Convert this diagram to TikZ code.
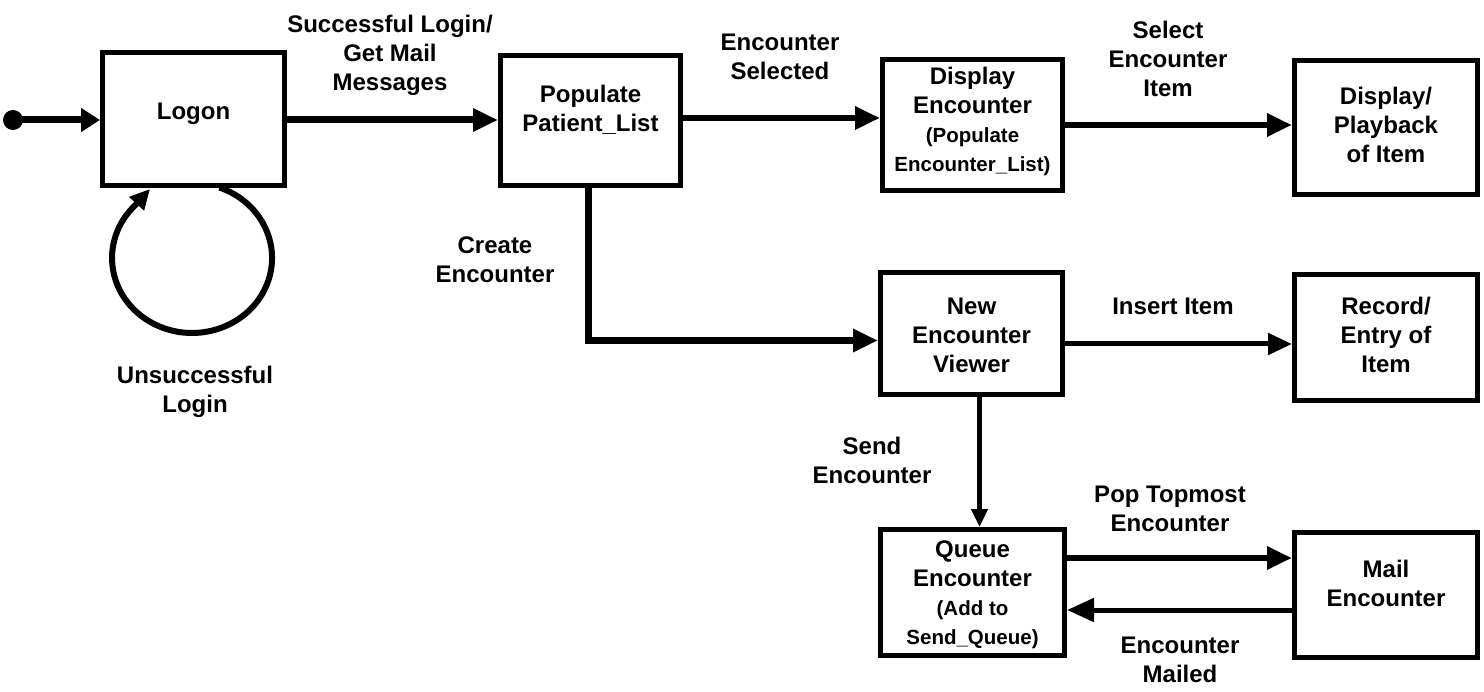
\documentclass[tikz,border=0pt]{standalone}
\usepackage{fontspec}
\setmainfont{Liberation Sans}
\usetikzlibrary{arrows.meta}
% centred multi-line text, optionally raised without changing its reported size
\newcommand\stack[2][0pt]{\raisebox{#1}[\height][\depth]{\begin{tabular}{@{}c@{}}#2\end{tabular}}}
\newcommand\minor{\fontsize{20.5}{29}\selectfont}

\begin{document}
\begin{tikzpicture}[x=1pt,y=-1pt,
  stage/.style={draw, line width=5pt, fill=white, inner sep=0pt,
    font=\bfseries\fontsize{24}{29}\selectfont},
  tag/.style={inner sep=0pt, font=\bfseries\fontsize{24}{29}\selectfont},
  flow/.style={line width=6.5pt, -{Triangle[length=25pt,width=22pt]}},
  thinflow/.style={line width=5pt, -{Triangle[length=24pt,width=21pt]}},
]
\fill[white] (0,0) rectangle (1484,692);
\useasboundingbox (0,0) rectangle (1484,692);

% states
\node[stage, minimum width=182pt, minimum height=133pt] (logon) at (193.5,119) {\stack[5pt]{Logon}};
\node[stage, minimum width=180pt, minimum height=130pt] (populate) at (590.5,120.5) {\stack[9pt]{Populate\\Patient\_List}};
\node[stage, minimum width=180pt, minimum height=131pt] (display) at (972.5,125) {\stack[3pt]{Display\\Encounter\\{\minor (Populate}\\{\minor Encounter\_List)}}};
\node[stage, minimum width=183pt, minimum height=134pt] (playback) at (1386,127.5) {\stack{Display/\\Playback\\of Item}};
\node[stage, minimum width=182pt, minimum height=122pt] (viewer) at (971.5,333.5) {\stack[-4pt]{New\\Encounter\\Viewer}};
\node[stage, minimum width=183pt, minimum height=126pt] (record) at (1386,337.5) {\stack{Record/\\Entry of\\Item}};
\node[stage, minimum width=184pt, minimum height=126pt] (queue) at (972.5,592.5) {\stack[-3pt]{Queue\\Encounter\\{\minor (Add to}\\{\minor Send\_Queue)}}};
\node[stage, minimum width=183pt, minimum height=125pt] (mail) at (1386,595) {\stack[9pt]{Mail\\Encounter}};

% initial state
\node[circle, fill, minimum size=20pt, inner sep=0pt] (start) at (13,120) {};

% transitions
\draw[line width=7pt, -{Triangle[length=19pt,width=23pt]}] (start.center) -- (start.center -| logon.west);
\draw[flow, line width=7pt] ([yshift=-1pt]logon.east) -- ([yshift=-1pt]logon.east -| populate.west);
\draw[flow] ([yshift=2.5pt]populate.east) -- ([yshift=2.5pt]populate.east -| display.west);
\draw[flow] (display.east) -- (display.east -| playback.west);
\draw[flow, line width=7pt] ([xshift=-2.5pt]populate.south) |- ([yshift=-7pt]viewer.west);
\draw[thinflow] ([yshift=-10.5pt]viewer.east) -- ([yshift=-10.5pt]viewer.east -| record.west);
\draw[line width=5pt, -{Triangle[length=18pt,width=16pt]}] ([xshift=8pt]viewer.south) -- ([xshift=8pt]viewer.south |- queue.north);
\draw[flow] ([yshift=34.5pt]queue.east) -- ([yshift=34.5pt]queue.east -| mail.west);
\draw[line width=5pt, -{Triangle[length=27pt,width=23pt]}] ([yshift=-15pt]mail.west) -- ([yshift=-15pt]mail.west -| queue.east);

% failed login loop
\coordinate (loopout) at (219.4,187.5);
\coordinate (loopin) at (150,189);
\draw[line width=6pt, -{Triangle[length=20pt,width=19pt]}] (loopout)
  arc[start angle=-70, end angle=225, x radius=80, y radius=75] -- (loopin);

% transition labels
\node[tag] (lsucc) at (390,56) {\stack{Successful Login/\\Get Mail\\Messages}};
\node[tag] (lsel) at (780,59) {\stack{Encounter\\Selected}};
\node[tag] (litem) at (1168,62) {\stack{Select\\Encounter\\Item}};
\node[tag] (lcreate) at (495,262) {\stack{Create\\Encounter}};
\node[tag] (lfail) at (195,392) {\stack{Unsuccessful\\Login}};
\node[tag] (linsert) at (1173,306) {Insert Item};
\node[tag] (lsend) at (872,463) {\stack{Send\\Encounter}};
\node[tag] (lpop) at (1170,511) {\stack{Pop Topmost\\Encounter}};
\node[tag] (lmailed) at (1180,662) {\stack{Encounter\\Mailed}};
\end{tikzpicture}
\end{document}
